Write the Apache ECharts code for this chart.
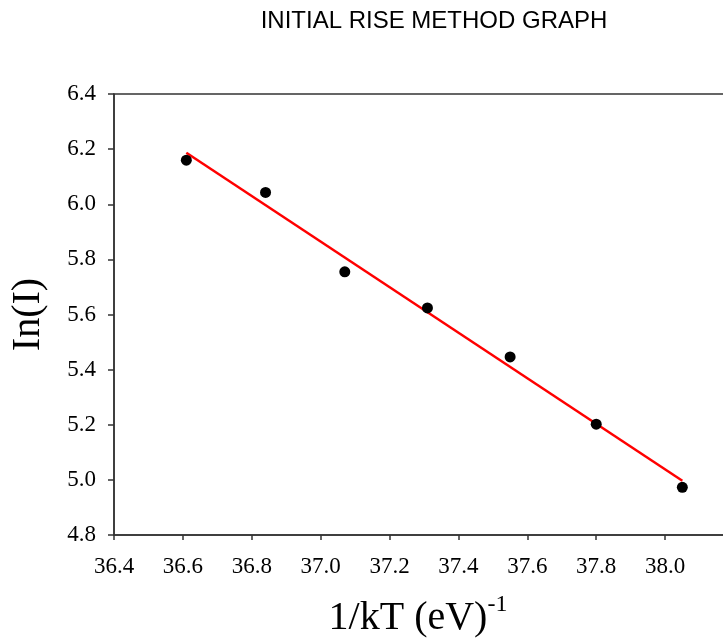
<!DOCTYPE html>
<html>
<head>
<meta charset="utf-8">
<title>Initial Rise Method Graph</title>
<script src="https://cdn.jsdelivr.net/npm/echarts@6/dist/echarts.min.js"></script>
<style>
  html, body { margin: 0; padding: 0; background: #ffffff; }
  #chart { width: 723px; height: 643px; }
</style>
</head>
<body>
<div id="chart"></div>
<script>
// Measured points: inverse thermal energy 1/kT (eV^-1) vs ln of TL intensity
const invKT = [36.61, 36.84, 37.07, 37.31, 37.55, 37.80, 38.05];
const lnI   = [6.160, 6.043, 5.755, 5.624, 5.446, 5.202, 4.973];

// Straight-line fit, drawn between its two end points
const fitX = [36.61, 38.05];
const fitY = [6.187, 4.997];

// Axis ranges and tick steps
const xRange = [36.4, 38.2];
const yRange = [4.8, 6.4];
const tickStep = 0.2;

const serif = "'Liberation Serif', 'Times New Roman', serif";
const sans = "'Liberation Sans', Arial, sans-serif";
const axisColor = '#333333';

const chart = echarts.init(document.getElementById('chart'), null, { renderer: 'canvas' });

chart.setOption({
  backgroundColor: '#ffffff',
  animation: false,
  title: {
    text: 'INITIAL RISE METHOD GRAPH',
    left: 429,
    textAlign: 'center',
    top: 4,
    textStyle: { fontFamily: sans, fontSize: 24, fontWeight: 'normal', color: '#000000' }
  },
  grid: {
    left: 114, top: 94, width: 620, height: 441,
    containLabel: false,
    outerBoundsMode: 'none',
    show: true, borderColor: axisColor, borderWidth: 1.5, backgroundColor: 'transparent'
  },
  xAxis: {
    type: 'value',
    min: xRange[0], max: xRange[1], interval: tickStep,
    axisLine: { show: true, onZero: false, lineStyle: { color: axisColor, width: 1.5 } },
    axisTick: { show: true, inside: false, length: 5, lineStyle: { color: axisColor, width: 1.5 } },
    splitLine: { show: false },
    axisLabel: {
      showMaxLabel: false, margin: 20,
      fontFamily: serif, fontSize: 23, color: '#000000',
      formatter: v => v.toFixed(1)
    },
    name: '{a|1/kT (eV)}{b|-1}',
    nameLocation: 'middle',
    nameGap: 61,
    nameTextStyle: {
      padding: [0, 12, 0, 0],
      rich: {
        a: { fontFamily: serif, fontSize: 40, color: '#000000', lineHeight: 44 },
        b: { fontFamily: serif, fontSize: 24, color: '#000000', lineHeight: 44, padding: [0, 0, 26, 0] }
      }
    }
  },
  yAxis: {
    type: 'value',
    min: yRange[0], max: yRange[1], interval: tickStep,
    axisLine: { show: true, onZero: false, lineStyle: { color: axisColor, width: 1.5 } },
    axisTick: { show: true, inside: false, length: 6, lineStyle: { color: axisColor, width: 1.5 } },
    splitLine: { show: false },
    axisLabel: {
      margin: 18,
      fontFamily: serif, fontSize: 23, color: '#000000',
      formatter: v => v.toFixed(1)
    },
    name: 'In(I)',
    nameLocation: 'middle',
    nameRotate: 90,
    nameGap: 66,
    nameTextStyle: { fontFamily: serif, fontSize: 40, color: '#000000' }
  },
  series: [
    {
      type: 'line',
      data: fitX.map((x, i) => [x, fitY[i]]),
      showSymbol: false,
      symbol: 'none',
      lineStyle: { color: '#ff0000', width: 2.5 },
      z: 2
    },
    {
      type: 'scatter',
      data: invKT.map((x, i) => [x, lnI[i]]),
      symbol: 'circle',
      symbolSize: 11,
      itemStyle: { color: '#000000', opacity: 1 },
      z: 3
    }
  ]
});
</script>
</body>
</html>
